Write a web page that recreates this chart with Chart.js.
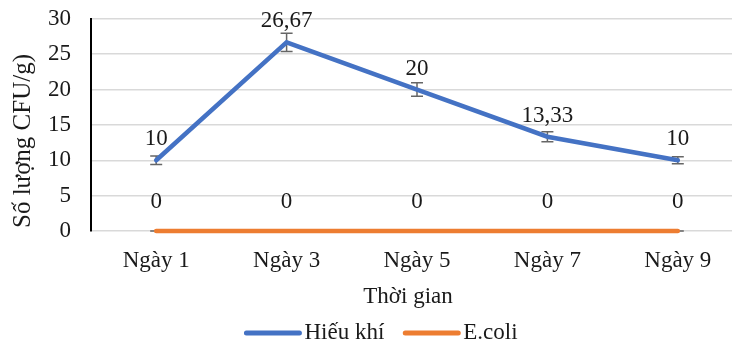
<!DOCTYPE html>
<html>
<head>
<meta charset="utf-8">
<script src="https://cdn.jsdelivr.net/npm/chart.js@4"></script>
<style>
  html, body { margin: 0; padding: 0; background: #fff; overflow: hidden; }
  #wrap { width: 745px; height: 360px; margin-top: -15px; }
</style>
</head>
<body>
<div id="wrap"><canvas id="chart"></canvas></div>
<script>
const labels = ['Ngày 1', 'Ngày 3', 'Ngày 5', 'Ngày 7', 'Ngày 9'];
const hieuKhi = [10, 26.67, 20, 13.33, 10];
const hieuKhiErr = [0.6, 1.3, 0.95, 0.7, 0.5];
const ecoli = [0, 0, 0, 0, 0];
const ecoliErr = [0, 0, 0, 0, 0];
const yTicks = [0, 5, 10, 15, 20, 25, 30];

const FONT = '"Liberation Serif", "Times New Roman", serif';
const FS = 23;
const TEXT = '#1a1a1a';
const SHIFT = 15; // canvas sits 15px above the page top

// error bars drawn under the lines, like Excel does
const errorBars = {
    id: 'errorBars',
    beforeDatasetsDraw(chart) {
        const ctx = chart.ctx;
        const y = chart.scales.y;
        chart.data.datasets.forEach((ds, i) => {
            const meta = chart.getDatasetMeta(i);
            ctx.save();
            ctx.strokeStyle = '#666';
            ctx.lineWidth = 1.5;
            meta.data.forEach((pt, j) => {
                const e = ds.errors[j];
                const top = y.getPixelForValue(ds.data[j] + e);
                const bot = y.getPixelForValue(ds.data[j] - e);
                ctx.beginPath();
                ctx.moveTo(pt.x, top); ctx.lineTo(pt.x, bot);
                ctx.moveTo(pt.x - 6, top); ctx.lineTo(pt.x + 6, top);
                ctx.moveTo(pt.x - 6, bot); ctx.lineTo(pt.x + 6, bot);
                ctx.stroke();
            });
            ctx.restore();
        });
    }
};

const valueLabels = {
    id: 'valueLabels',
    afterDatasetsDraw(chart) {
        const ctx = chart.ctx;
        ctx.save();
        ctx.font = FS + 'px ' + FONT;
        ctx.fillStyle = TEXT;
        ctx.textAlign = 'center';
        ctx.textBaseline = 'alphabetic';
        chart.data.datasets.forEach((ds, i) => {
            chart.getDatasetMeta(i).data.forEach((pt, j) => {
                const txt = String(ds.data[j]).replace('.', ',');
                ctx.fillText(txt, pt.x, pt.y - ds.labelOffset);
            });
        });
        ctx.restore();
    }
};

const extraText = {
    id: 'extraText',
    afterDraw(chart) {
        const ctx = chart.ctx;
        ctx.save();
        ctx.font = FS + 'px ' + FONT;
        ctx.fillStyle = TEXT;
        ctx.textBaseline = 'middle';
        ctx.textAlign = 'center';
        ctx.fillText('Thời gian', 408, 297 + SHIFT);

        ctx.save();
        ctx.font = '25px ' + FONT;
        ctx.translate(23, 141 + SHIFT);
        ctx.rotate(-Math.PI / 2);
        ctx.fillText('Số lượng CFU/g)', 0, 0);
        ctx.restore();

        // legend
        const lineW = 57, gap = 3, sep = 19;
        const items = chart.data.datasets.map(ds => ({
            text: ds.label, color: ds.borderColor, w: ctx.measureText(ds.label).width
        }));
        let total = 0;
        items.forEach((it, k) => { total += lineW + gap + it.w + (k ? sep : 0); });
        let x = 381 - total / 2;
        const ly = 333 + SHIFT;
        ctx.textAlign = 'left';
        items.forEach((it, k) => {
            if (k) x += sep;
            ctx.strokeStyle = it.color;
            ctx.lineWidth = 5;
            ctx.lineCap = 'round';
            ctx.beginPath();
            ctx.moveTo(x + 2, ly); ctx.lineTo(x + lineW - 2, ly);
            ctx.stroke();
            x += lineW + gap;
            ctx.fillText(it.text, x, ly);
            x += it.w;
        });
        ctx.restore();
    }
};

new Chart(document.getElementById('chart'), {
    type: 'line',
    data: {
        labels: labels,
        datasets: [
            {
                label: 'Hiếu khí',
                data: hieuKhi,
                errors: hieuKhiErr,
                labelOffset: 15,
                borderColor: '#4472C4',
                backgroundColor: '#4472C4',
                borderWidth: 4.5,
                borderCapStyle: 'round',
                tension: 0,
                pointRadius: 0,
                clip: false
            },
            {
                label: 'E.coli',
                data: ecoli,
                errors: ecoliErr,
                labelOffset: 23,
                borderColor: '#ED7D31',
                backgroundColor: '#ED7D31',
                borderWidth: 4.5,
                borderCapStyle: 'round',
                tension: 0,
                pointRadius: 0,
                clip: false
            }
        ]
    },
    options: {
        responsive: true,
        maintainAspectRatio: false,
        animation: false,
        layout: { padding: { top: 3, right: 2, left: 0, bottom: 0 } },
        plugins: {
            legend: { display: false },
            tooltip: { enabled: false }
        },
        scales: {
            x: {
                offset: true,
                grid: { display: false },
                border: { display: false },
                ticks: {
                    font: { family: FONT, size: FS },
                    color: TEXT,
                    padding: 8,
                    maxRotation: 0,
                    autoSkip: false
                },
                afterFit: (s) => { s.height = 114; }
            },
            y: {
                min: 0,
                max: 30,
                afterBuildTicks: (s) => { s.ticks = yTicks.map(v => ({ value: v })); },
                grid: { color: '#d9d9d9', lineWidth: 1.5, drawTicks: false },
                border: { display: true, color: '#000', width: 2 },
                ticks: {
                    font: { family: FONT, size: FS },
                    color: TEXT,
                    padding: 20
                },
                afterFit: (s) => { s.width = 91; }
            }
        }
    },
    plugins: [errorBars, valueLabels, extraText]
});
</script>
</body>
</html>
